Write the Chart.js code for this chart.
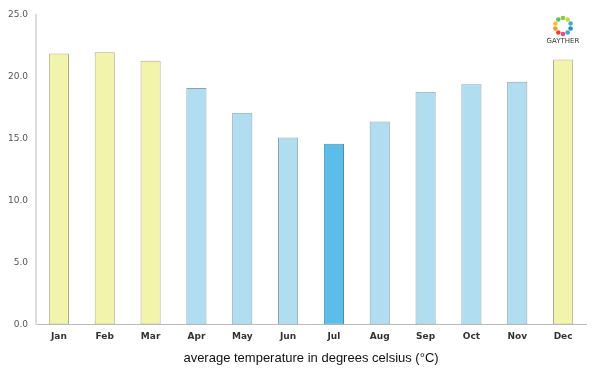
<!DOCTYPE html>
<html>
<head>
<meta charset="utf-8">
<script src="https://cdn.jsdelivr.net/npm/chart.js@4/dist/chart.umd.min.js"></script>
<style>
  html, body { margin: 0; padding: 0; background: #fff; }
  #wrap { width: 600px; height: 375px; }
</style>
</head>
<body>
<div id="wrap"><canvas id="tempChart"></canvas></div>
<script>
// Chart data
const months = ['Jan', 'Feb', 'Mar', 'Apr', 'May', 'Jun', 'Jul', 'Aug', 'Sep', 'Oct', 'Nov', 'Dec'];
const avgTemps = [21.9, 22.0, 21.3, 19.1, 17.1, 15.1, 14.6, 16.4, 18.8, 19.4, 19.6, 21.4];
const seasons = ['warm', 'warm', 'warm', 'cool', 'cool', 'cool', 'coldest', 'cool', 'cool', 'cool', 'cool', 'warm'];
const yTicks = [0, 5, 10, 15, 20, 25];
const axisTitle = 'average temperature in degrees celsius (°C)';

const fillColors = { warm: '#f3f4ab', cool: '#b0ddf0', coldest: '#5cbde8' };
const edgeColors = { warm: '#aeae8c', cool: '#8aa3b0', coldest: '#4a8fb0' };

// Little "GAYTHER" logo at the top right
const logoPlugin = {
  id: 'logo',
  afterDraw(chart) {
    const ctx = chart.ctx;
    const cx = 563, cy = 26, r = 8;
    const dots = ['#8dc63f', '#c6d840', '#3fb0c9', '#2a8fc4', '#4aa0d0', '#e94b8a', '#e8432f', '#f29a2e', '#f6c12e', '#5bbf6a'];
    ctx.save();
    dots.forEach((c, i) => {
      const a = (i / dots.length) * Math.PI * 2 - Math.PI / 2;
      ctx.fillStyle = c;
      ctx.beginPath();
      ctx.arc(cx + Math.cos(a) * r, cy + Math.sin(a) * r, 2.3, 0, Math.PI * 2);
      ctx.fill();
    });
    ctx.fillStyle = '#333';
    ctx.font = '7px "DejaVu Sans", sans-serif';
    ctx.textAlign = 'center';
    ctx.textBaseline = 'middle';
    ctx.fillText('GAYTHER', cx, 41);
    ctx.restore();
  }
};

new Chart(document.getElementById('tempChart'), {
  type: 'bar',
  data: {
    labels: months,
    datasets: [{
      data: avgTemps,
      backgroundColor: seasons.map(s => fillColors[s]),
      borderColor: seasons.map(s => edgeColors[s]),
      borderWidth: 1,
      borderSkipped: false,
      barPercentage: 0.44,
      categoryPercentage: 1
    }]
  },
  options: {
    responsive: true,
    maintainAspectRatio: false,
    animation: false,
    layout: { padding: { top: 15, right: 14, bottom: 9, left: 0 } },
    plugins: {
      legend: { display: false },
      tooltip: { enabled: false }
    },
    scales: {
      x: {
        grid: { display: false, drawTicks: false },
        border: { color: '#bbb', width: 1 },
        ticks: {
          color: '#333',
          padding: 7,
          font: { family: '"DejaVu Sans", sans-serif', size: 9, weight: 'bold' }
        },
        title: {
          display: true,
          text: axisTitle,
          color: '#111',
          padding: { top: 1, bottom: 0 },
          font: { family: 'Arial, "Liberation Sans", sans-serif', size: 13 }
        }
      },
      y: {
        min: 0,
        max: 25,
        afterBuildTicks(scale) {
          scale.ticks = yTicks.map(v => ({ value: v }));
        },
        afterFit(scale) {
          scale.width = 36;
        },
        grid: { display: false, drawTicks: false },
        border: { color: '#ddd', width: 2 },
        ticks: {
          color: '#555',
          padding: 8,
          font: { family: '"DejaVu Sans", sans-serif', size: 9 },
          callback: v => v.toFixed(1)
        }
      }
    }
  },
  plugins: [logoPlugin]
});
</script>
</body>
</html>
